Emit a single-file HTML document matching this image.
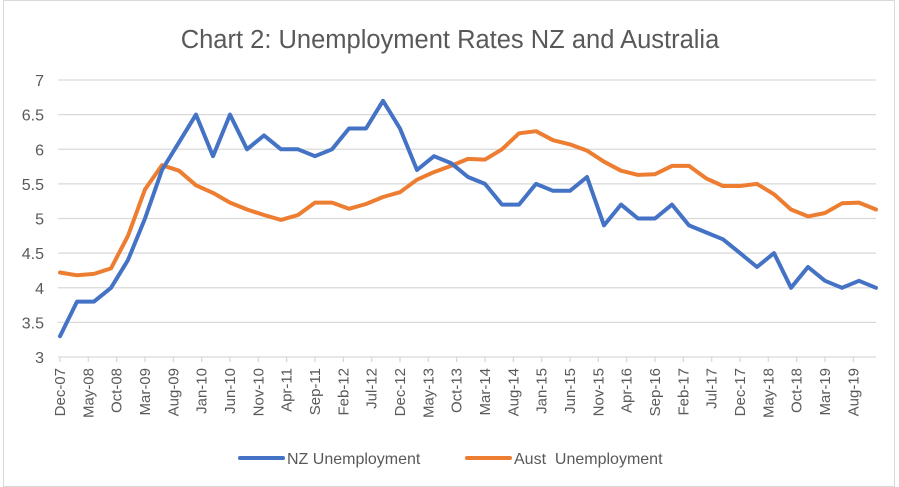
<!DOCTYPE html>
<html><head><meta charset="utf-8"><style>
body{margin:0;background:#fff;}
svg{display:block;font-family:"Liberation Sans",sans-serif;}
</style></head><body>
<svg id="c" width="899" height="487" viewBox="0 0 899 487" xmlns="http://www.w3.org/2000/svg">
<rect x="0" y="0" width="899" height="487" fill="#fff"/>
<rect x="3.5" y="0.5" width="891" height="486" fill="none" stroke="#d9d9d9"/>
<text x="450" y="48" text-anchor="middle" font-size="25.5" fill="#595959">Chart 2: Unemployment Rates NZ and Australia</text>
<g id="g"></g>
<line x1="240" y1="458" x2="283" y2="458" stroke="#4472c4" stroke-width="4" stroke-linecap="round"/>
<text x="287" y="464" font-size="16" fill="#595959">NZ Unemployment</text>
<line x1="467" y1="458" x2="510" y2="458" stroke="#ed7d31" stroke-width="4" stroke-linecap="round"/>
<text x="514" y="464" font-size="16" fill="#595959">Aust&#160; Unemployment</text>
</svg>
<script>
var g=document.getElementById('g'),s='';
var x0=58,x1=876,yT=80,yB=357;
function Y(v){return yB-(v-3)/4*(yB-yT);}
for(var v=3;v<=7.001;v+=0.5){var y=Y(v);
 s+='<line x1="'+x0+'" y1="'+y+'" x2="'+x1+'" y2="'+y+'" stroke="#d9d9d9" stroke-width="1.3"/>';
 s+='<text x="44" y="'+(y+6)+'" text-anchor="end" font-size="16" fill="#595959">'+(Math.round(v*10)/10)+'</text>';}
var pm=(x1-x0-2)/144;
var mons=['Jan','Feb','Mar','Apr','May','Jun','Jul','Aug','Sep','Oct','Nov','Dec'];
for(var m=0;m<=144;m+=5){var x=x0+2+m*pm;
 s+='<line x1="'+x+'" y1="'+yB+'" x2="'+x+'" y2="'+(yB+5)+'" stroke="#d9d9d9" stroke-width="1.3"/>';
 if(m<=140){var mi=(11+m)%12,yr=7+Math.floor((11+m)/12);
 var lab=mons[mi]+'-'+(yr<10?'0':'')+yr;
 s+='<text transform="translate('+(x+5)+',368) rotate(-90)" text-anchor="end" font-size="15" fill="#595959">'+lab+'</text>';}}
var nz=[3.3,3.8,3.8,4.0,4.4,5.0,5.7,6.1,6.5,5.9,6.5,6.0,6.2,6.0,6.0,5.9,6.0,6.3,6.3,6.7,6.3,5.7,5.9,5.8,5.6,5.5,5.2,5.2,5.5,5.4,5.4,5.6,4.9,5.2,5.0,5.0,5.2,4.9,4.8,4.7,4.5,4.3,4.5,4.0,4.3,4.1,4.0,4.1,4.0];
var au=[4.22,4.18,4.2,4.28,4.75,5.42,5.77,5.69,5.48,5.37,5.23,5.13,5.05,4.98,5.05,5.23,5.23,5.14,5.21,5.31,5.38,5.56,5.67,5.76,5.86,5.85,6.0,6.23,6.26,6.13,6.07,5.98,5.82,5.69,5.63,5.64,5.76,5.76,5.58,5.47,5.47,5.5,5.35,5.13,5.03,5.08,5.22,5.23,5.13];
function poly(d,c){var p=d.map(function(v,i){return (x0+2+i*3*pm).toFixed(1)+','+Y(v).toFixed(1);}).join(' ');
 return '<polyline points="'+p+'" fill="none" stroke="'+c+'" stroke-width="4" stroke-linejoin="round" stroke-linecap="round"/>';}
s+=poly(au,'#ed7d31')+poly(nz,'#4472c4');
g.innerHTML=s;
</script>
</body></html>
